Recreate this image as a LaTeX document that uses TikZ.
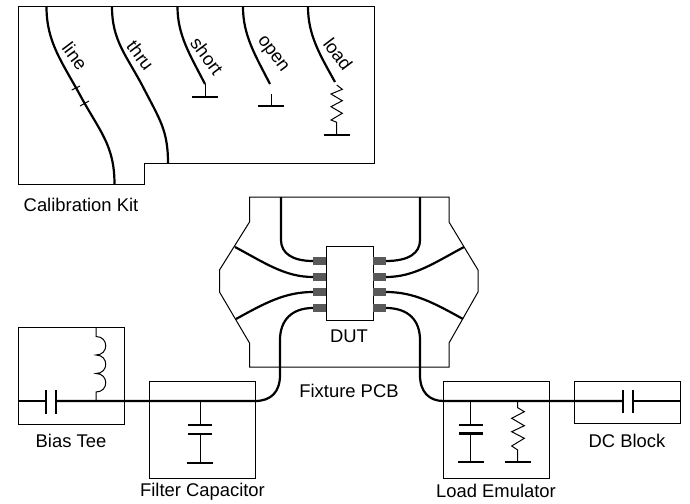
\documentclass[tikz,border=0pt]{standalone}
\usepackage{fontspec}
\setmainfont{Liberation Sans}
\tikzset{
    wire/.style = {line width = 1pt},
    trace/.style = {line width = 2.2pt},
    box/.style = {draw, line width = 1pt, rectangle, inner sep = 0pt, outer sep = 0pt},
    pin/.style = {fill = black!65, rectangle, inner sep = 0pt, outer sep = 0pt, minimum width = 13pt, minimum height = 8pt},
    caption/.style = {font = \fontsize{18.4}{20}\selectfont, inner sep = 0pt},
    standard/.style = {caption, rotate = -53}
}
\begin{document}
\begin{tikzpicture}[x = 1pt, y = -1pt]
    \useasboundingbox (0,0) rectangle (690,503);

    % calibration kit
    \draw [wire] (18.5,7) -- (374,7) -- (374,163.5) -- (144,163.5) -- (144,184.5) -- (18.5,184.5) -- cycle;
    \node[caption] (kit) at (81,205) {Calibration Kit};
    \node[standard] (line) at (75,56) {line};
    \node[standard] (thru) at (140.5,55.5) {thru};
    \node[standard] (short) at (207,56) {short};
    \node[standard] (open) at (272,55) {open};
    \node[standard] (load) at (338,54) {load};

    \coordinate (linea) at (46.5,7);
    \coordinate (lineb) at (114.5,184.5);
    \coordinate (thrua) at (112,7);
    \coordinate (thrub) at (168,163.5);
    \coordinate (shorta) at (177.5,7);
    \coordinate (shortb) at (205,84);
    \coordinate (shortg) at (205,97);
    \coordinate (opena) at (243,7);
    \coordinate (openb) at (270,84);
    \coordinate (openc) at (271,94);
    \coordinate (openg) at (271,106);
    \coordinate (loada) at (308,7);
    \coordinate (loadb) at (336.7,85);
    \coordinate (loadg) at (336.7,135);

    \draw [trace] (linea) .. controls (46.5,42) and (62,62) .. (80,95) .. controls (100,132) and (114.5,145) .. (lineb);
    \draw [wire] (71.7,90) -- (80,86);
    \draw [wire] (80,106) -- (89,101);
    \draw [trace] (thrua) .. controls (112,40) and (126,55) .. (142,85) .. controls (160,120) and (168,130) .. (thrub);
    \draw [trace] (shorta) .. controls (177.5,35) and (190,55) .. (shortb);
    \draw [wire] (shortb) -- (shortg);
    \draw [trace] ([xshift = -13pt]shortg) -- ([xshift = 13pt]shortg);
    \draw [trace] (opena) .. controls (243,35) and (255,55) .. (openb);
    \draw [wire] (openc) -- (openg);
    \draw [trace] ([xshift = -13pt]openg) -- ([xshift = 13pt]openg);
    \draw [trace] (loada) .. controls (308,35) and (320,55) .. (335,82);
    \draw [wire] (loadb) -- (342.3,89.3) -- (331,94) -- (342.3,100.7) -- (331,106.7) -- (342.3,113.3) -- (331,120) -- (336.7,122.3) -- (loadg);
    \draw [trace] ([xshift = -13pt]loadg) -- ([xshift = 13pt]loadg);

    % fixture
    \draw [wire] (249.5,197) -- (449,197) -- (449,222) -- (478,270) -- (478,292) -- (449,343) -- (449,367)
        -- (249.5,367) -- (249.5,343) -- (219.5,292) -- (219.5,270) -- (249.5,222) -- cycle;
    \node[box, minimum width = 47pt, minimum height = 74pt, fill = white] (dut) at (349.5,283) {};
    \node[caption] (dutlabel) at (349,336) {DUT};
    \node[caption] (pcb) at (349,391) {Fixture PCB};
    \foreach \name/\ypos in {a/261,b/277,c/292,d/308} {
        \node[pin] (l\name) at (319.5,\ypos) {};
        \node[pin] (r\name) at (379.5,\ypos) {};
    }

    \coordinate (topl) at (281,197);
    \coordinate (topr) at (420,197);
    \coordinate (edgel) at (235,247);
    \coordinate (edger) at (464,247);
    \coordinate (edgell) at (236,319);
    \coordinate (edgerr) at (463,319);

    \draw [trace] (topl) -- (281,240) .. controls (281,253) and (292,261) .. (la.west);
    \draw [trace] (topr) -- (420,240) .. controls (420,253) and (409,261) .. (ra.east);
    \draw [trace] (edgel) .. controls (265,263) and (285,277) .. (lb.west);
    \draw [trace] (edger) .. controls (434,263) and (414,277) .. (rb.east);
    \draw [trace] (edgell) .. controls (265,303) and (285,292) .. (lc.west);
    \draw [trace] (edgerr) .. controls (434,303) and (414,292) .. (rc.east);

    % boxes along the bias path
    \node[box, minimum width = 106pt, minimum height = 97pt] (tee) at (71.5,375.5) {};
    \node[box, minimum width = 105.5pt, minimum height = 96.5pt] (filter) at (202.5,430) {};
    \node[box, minimum width = 105.5pt, minimum height = 96.5pt] (emu) at (496.5,430) {};
    \node[box, minimum width = 105.5pt, minimum height = 42pt] (block) at (627.5,402.7) {};
    \node[caption] (teelabel) at (71,441) {Bias Tee};
    \node[caption] (filterlabel) at (202.5,492) {Filter Capacitor};
    \node[caption] (emulabel) at (496,491) {Load Emulator};
    \node[caption] (blocklabel) at (627,441) {DC Block};

    \coordinate (in) at (18.5,401);
    \coordinate (out) at (680,401);
    \coordinate (tap) at (96,401);

    % main line
    \draw [trace] (in) -- (46,401);
    \draw [trace] (46,390) -- (46,414);
    \draw [trace] (56,390) -- (56,414);
    \draw [trace] (56,401) -- (255,401) .. controls (271,401) and (280,392) .. (280,375) -- (280,340)
        .. controls (280,320) and (292,308) .. (ld.west);
    \draw [trace] (rd.east) .. controls (408,308) and (420,320) .. (420,340) -- (420,375)
        .. controls (420,392) and (429,401) .. (443.7,401) -- (623,401);
    \draw [trace] (623,390) -- (623,413);
    \draw [trace] (633,390) -- (633,413);
    \draw [trace] (633,401) -- (out);

    % inductor
    \draw [wire] (tap) -- (96,392) .. controls +(13,0) and +(13,0) .. ++(0,-18.5)
        .. controls +(13,0) and +(13,0) .. ++(0,-18.5)
        .. controls +(13,0) and +(13,0) .. ++(0,-18.5) -- (96,327);

    % filter capacitor
    \draw [wire] (200,401) -- (200,425);
    \draw [trace] (188,425) -- (212,425);
    \draw [trace] (188,434) -- (212,434);
    \draw [wire] (200,434) -- (200,462.7);
    \draw [trace] (187,462.7) -- (213,462.7);

    % load emulator
    \draw [wire] (470.7,401) -- (470.7,425);
    \draw [trace] (459,425) -- (483,425);
    \draw [trace] (459,433.5) -- (483,433.5);
    \draw [wire] (470.7,433.5) -- (470.7,462);
    \draw [trace] (458,462) -- (484,462);
    \draw [wire] (517.7,401) -- (517.7,407.7) -- (524.3,411.7) -- (511.7,418.3) -- (524.3,425.7) -- (511.7,431.7) -- (524.3,438.3) -- (511.7,446)
        -- (517.7,450) -- (517.7,462);
    \draw [trace] (505,462) -- (530.7,462);
\end{tikzpicture}
\end{document}
